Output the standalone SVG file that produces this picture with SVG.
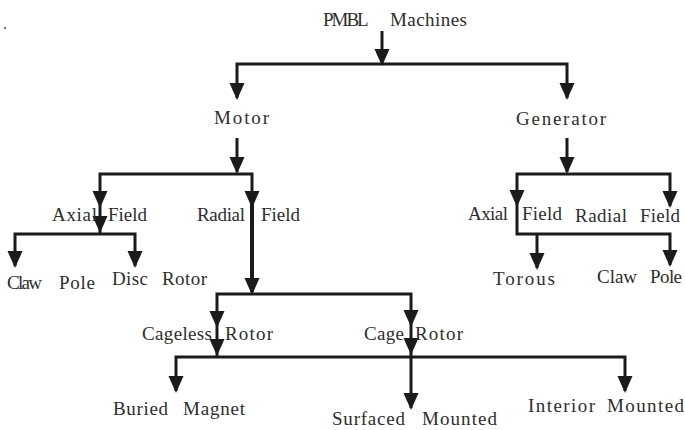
<svg xmlns="http://www.w3.org/2000/svg" xmlns:xlink="http://www.w3.org/1999/xlink" width="685" height="430" viewBox="0 0 685 430">
<style>
.t{font-family:"Liberation Serif","Times New Roman",serif;font-size:19px;fill:#2e2e2e}
.c{fill:none;stroke:#1c1a1a;stroke-width:3;stroke-linejoin:miter;stroke-linecap:butt}
.thick{stroke-width:4}
.ah{fill:#1c1a1a}
</style>
<defs>
<path id="ah" class="ah" d="M-7.5,-17 L7.5,-17 L0,0 Z"/>
</defs>
<rect x="4" y="27" width="2" height="2" fill="#777"/>
<g id="connectors">
<path class="c" d="M382,31 V64"/>
<path class="c" d="M237,98 V64 H567 V98"/>
<use xlink:href="#ah" x="382" y="66"/>
<use xlink:href="#ah" x="237" y="100"/>
<use xlink:href="#ah" x="567" y="100"/>
<path class="c" d="M237,138 V172"/>
<use xlink:href="#ah" x="237" y="174"/>
<path class="c" d="M100,234 V174 H252 V208"/>
<path class="thick c" d="M252,200 V292"/>
<use xlink:href="#ah" x="100" y="208"/>
<use xlink:href="#ah" x="100" y="233"/>
<use xlink:href="#ah" x="252" y="208"/>
<use xlink:href="#ah" x="252" y="295"/>
<path class="c" d="M15,266 V234 H135 V266"/>
<use xlink:href="#ah" x="15" y="268"/>
<use xlink:href="#ah" x="135" y="268"/>
<path class="c" d="M567,138 V172"/>
<use xlink:href="#ah" x="567" y="174"/>
<path class="c" d="M670,206 V174 H517 V234 H670 V265"/>
<path class="c" d="M537,235 V268"/>
<use xlink:href="#ah" x="517" y="207"/>
<use xlink:href="#ah" x="670" y="208"/>
<use xlink:href="#ah" x="670" y="267"/>
<use xlink:href="#ah" x="537" y="270"/>
<path class="c" d="M217,357 V294 H411 V408"/>
<use xlink:href="#ah" x="217" y="328"/>
<use xlink:href="#ah" x="217" y="356"/>
<use xlink:href="#ah" x="411" y="327"/>
<use xlink:href="#ah" x="411" y="355"/>
<use xlink:href="#ah" x="411" y="410"/>
<path class="c" d="M176,391 V357 H625 V391"/>
<use xlink:href="#ah" x="176" y="393"/>
<use xlink:href="#ah" x="625" y="393"/>
</g>
<g id="pmbl"><text class="t" y="26"><tspan x="323" textLength="45">PMBL</tspan> <tspan x="390" textLength="77">Machines</tspan></text></g>
<g id="motor"><text class="t" x="214" y="124" textLength="55">Motor</text></g>
<g id="generator"><text class="t" x="516" y="125" textLength="90">Generator</text></g>
<g id="motor-axial"><text class="t" y="221"><tspan x="52" textLength="45">Axial</tspan> <tspan x="108" textLength="39">Field</tspan></text></g>
<g id="motor-radial"><text class="t" y="221"><tspan x="197" textLength="48">Radial</tspan> <tspan x="261" textLength="39">Field</tspan></text></g>
<g id="motor-claw"><text class="t" y="289"><tspan x="7" textLength="35">Claw</tspan> <tspan x="59" textLength="36">Pole</tspan></text></g>
<g id="disc"><text class="t" y="285"><tspan x="112" textLength="36">Disc</tspan> <tspan x="162" textLength="45">Rotor</tspan></text></g>
<g id="gen-axial"><text class="t" y="220"><tspan x="468" textLength="40">Axial</tspan> <tspan x="522" textLength="40">Field</tspan></text></g>
<g id="gen-radial"><text class="t" y="222"><tspan x="575" textLength="52">Radial</tspan> <tspan x="640" textLength="40">Field</tspan></text></g>
<g id="torous"><text class="t" x="493" y="285" textLength="62">Torous</text></g>
<g id="gen-claw"><text class="t" y="283"><tspan x="597" textLength="40">Claw</tspan> <tspan x="650" textLength="32">Pole</tspan></text></g>
<g id="cageless"><text class="t" y="340"><tspan x="142" textLength="70">Cageless</tspan> <tspan x="225" textLength="48">Rotor</tspan></text></g>
<g id="cage"><text class="t" y="340"><tspan x="364" textLength="40">Cage</tspan> <tspan x="415" textLength="48">Rotor</tspan></text></g>
<g id="buried"><text class="t" y="415"><tspan x="113" textLength="55">Buried</tspan> <tspan x="183" textLength="62">Magnet</tspan></text></g>
<g id="surfaced"><text class="t" y="425"><tspan x="332" textLength="73">Surfaced</tspan> <tspan x="422" textLength="75">Mounted</tspan></text></g>
<g id="interior"><text class="t" y="412"><tspan x="528" textLength="67">Interior</tspan> <tspan x="607" textLength="77">Mounted</tspan></text></g>
</svg>
